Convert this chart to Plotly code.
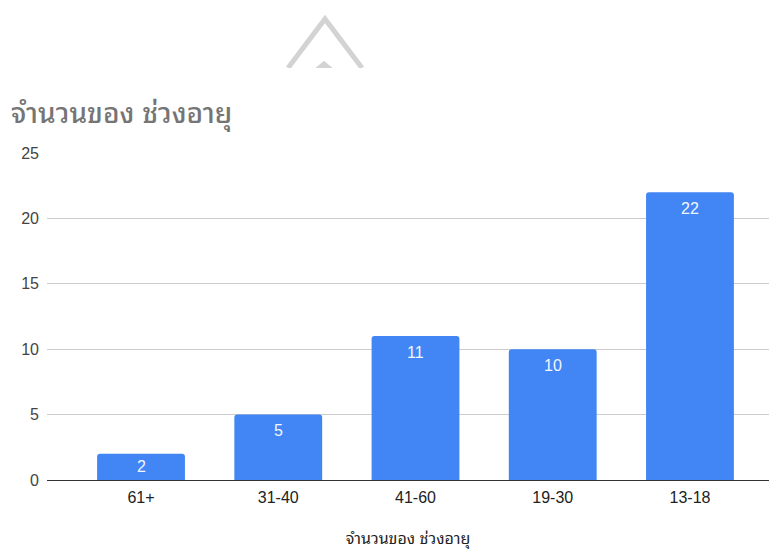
import plotly.graph_objects as go

categories = ["61+", "31-40", "41-60", "19-30", "13-18"]
counts = [2, 5, 11, 10, 22]
y_ticks = [0, 5, 10, 15, 20, 25]

title_text = "จำนวนของ ช่วงอายุ"
x_title = "จำนวนของ ช่วงอายุ"

W, H = 769, 549
L, R, T, B = 47, 0, 153, 69
pw = W - L - R
ph = H - T - B
YMAX = 25
FONT = ("Arial, 'Liberation Sans', Tahoma, 'Noto Sans Thai Looped', Loma, Garuda, "
        "'Noto Sans Thai', Roboto, sans-serif")

def px(x):
    return (x - L) / pw

def py(y):
    return (H - B - y) / ph

fig = go.Figure()
fig.add_trace(go.Bar(
    x=list(range(len(categories))),
    y=counts,
    marker=dict(color="#4285f4", line=dict(width=0), cornerradius=3),
    width=0.64,
    hoverinfo="skip",
))

# value labels inside the top of each bar
for i, c in enumerate(counts):
    bar_px = c * ph / YMAX
    fig.add_annotation(x=i, y=c, text=str(c), showarrow=False,
                       yanchor="middle", yshift=-min(16, bar_px / 2),
                       font=dict(color="#f4f7fe", size=16, family=FONT))

# decorative grey icon outline at the top (cropped)
fig.add_shape(type="path", xref="paper", yref="paper",
              path=f"M {px(288)},{py(68)} L {px(325)},{py(19)} L {px(362)},{py(68)}",
              line=dict(color="#d3d3d3", width=5), layer="above")
fig.add_shape(type="path", xref="paper", yref="paper",
              path=f"M {px(317)},{py(68)} L {px(324)},{py(62)} L {px(331)},{py(68)} Z",
              line=dict(color="#d3d3d3", width=2), fillcolor="#d3d3d3", layer="above")
fig.add_shape(type="rect", xref="paper", yref="paper",
              x0=px(270), x1=px(390), y0=py(68), y1=py(80),
              line=dict(width=0), fillcolor="white", layer="above")

fig.update_layout(
    width=W, height=H,
    margin=dict(l=L, r=R, t=T, b=B, pad=0, autoexpand=False),
    paper_bgcolor="white", plot_bgcolor="white",
    showlegend=False,
    font=dict(family=FONT, color="#444444", size=16),
    title=dict(text=title_text, x=11 / W, xanchor="left", xref="container",
               y=1 - 113 / H, yanchor="middle", yref="container",
               font=dict(size=28, color="#757575", family=FONT, weight=500)),
)

fig.update_xaxes(
    tickmode="array", tickvals=list(range(len(categories))), ticktext=categories,
    range=[-(141 - L) / 137.2, 4 + (W - 690) / 137.2],
    showgrid=False, zeroline=False,
    showline=False, ticks="",
    automargin=False,
    tickfont=dict(size=16, color="#222222"),
    ticklabelstandoff=6,
    title=dict(text=x_title, standoff=34, font=dict(size=16, color="#222222")),
)
fig.update_yaxes(
    tickmode="array", tickvals=y_ticks,
    range=[0, YMAX],
    showgrid=True, gridcolor="#cccccc", gridwidth=1,
    zeroline=True, zerolinecolor="#333333", zerolinewidth=1,
    showline=False, ticks="",
    automargin=False,
    ticklabelstandoff=7,
    tickfont=dict(size=16, color="#444444"),
)

fig.write_html("out.html", config={"displayModeBar": False},
               post_script="document.body.style.margin='0';document.body.style.padding='0';")
